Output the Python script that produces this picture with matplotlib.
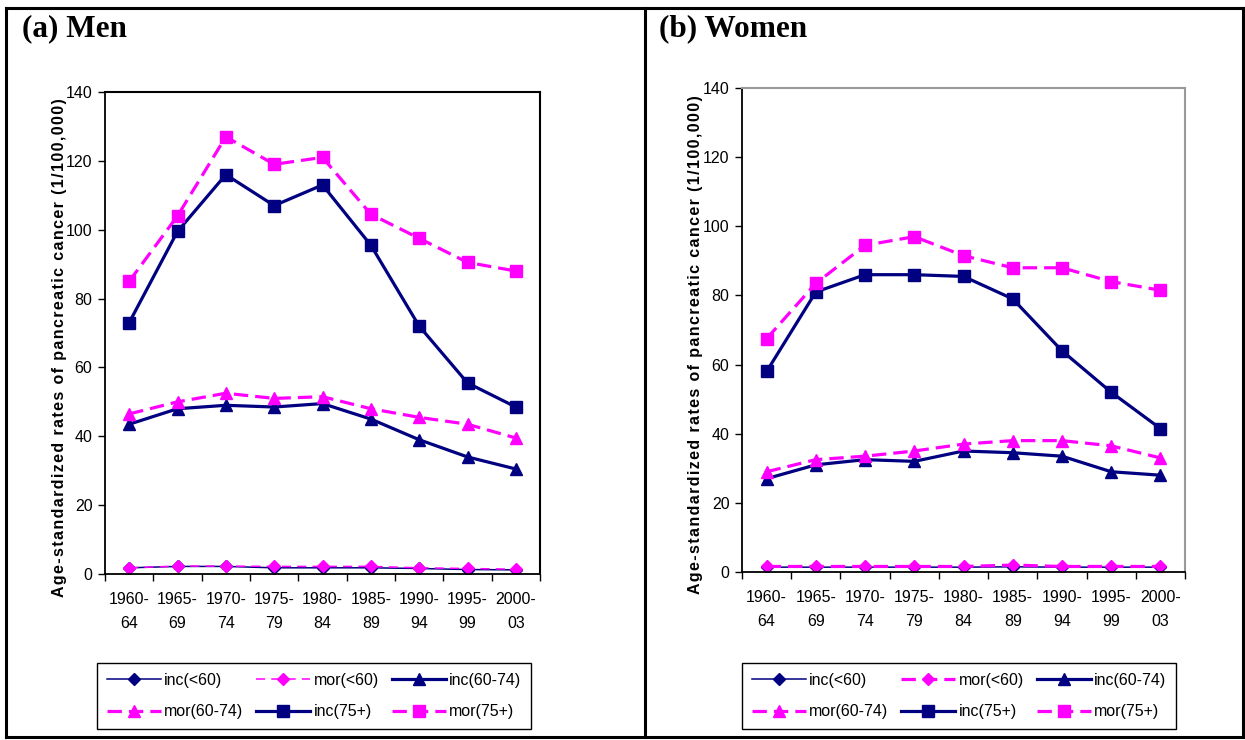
import matplotlib
matplotlib.use("Agg")
import matplotlib.pyplot as plt
from matplotlib.lines import Line2D

# periods on the x axis
periods = ["1960-\n64", "1965-\n69", "1970-\n74", "1975-\n79", "1980-\n84",
           "1985-\n89", "1990-\n94", "1995-\n99", "2000-\n03"]

# (a) Men
men_inc_lt60 = [1.8, 2.2, 2.2, 1.8, 1.8, 1.8, 1.6, 1.3, 1.2]
men_mor_lt60 = [1.8, 2.3, 2.3, 2.2, 2.2, 2.2, 1.8, 1.6, 1.4]
men_inc_6074 = [43.5, 48, 49, 48.5, 49.5, 45, 39, 34, 30.5]
men_mor_6074 = [46.5, 50, 52.5, 51, 51.5, 48, 45.5, 43.5, 39.5]
men_inc_75 = [73, 99.5, 116, 107, 113, 95.5, 72, 55.5, 48.5]
men_mor_75 = [85, 104, 127, 119, 121, 104.5, 97.5, 90.5, 88]

# (b) Women
wom_inc_lt60 = [1.4, 1.4, 1.4, 1.4, 1.4, 1.5, 1.4, 1.4, 1.4]
wom_mor_lt60 = [1.6, 1.6, 1.6, 1.6, 1.6, 2.0, 1.6, 1.6, 1.6]
wom_inc_6074 = [27, 31, 32.5, 32, 35, 34.5, 33.5, 29, 28]
wom_mor_6074 = [29, 32.5, 33.5, 35, 37, 38, 38, 36.5, 33]
wom_inc_75 = [58, 81, 86, 86, 85.5, 79, 64, 52, 41.5]
wom_mor_75 = [67.5, 83.5, 94.5, 97, 91.5, 88, 88, 84, 81.5]

labels = ["inc(<60)", "mor(<60)", "inc(60-74)", "mor(60-74)", "inc(75+)", "mor(75+)"]
ylab = "Age-standardized rates of pancreatic cancer (1/100,000)"

NAVY = "#000080"
MAG = "#FF00FF"
FONT = ["Liberation Sans", "DejaVu Sans"]

fig = plt.figure(figsize=(12.45, 7.4), dpi=100)


def draw_panel(rect, series, thin_mor, spine_col, legend_center):
    ax = fig.add_axes(rect)
    x = list(range(len(periods)))
    inc_lt60, mor_lt60, inc_6074, mor_6074, inc_75, mor_75 = series

    h = []
    h += ax.plot(x, inc_lt60, color=NAVY, lw=1.1, marker="D", ms=6, mfc=NAVY, mec=NAVY)
    if thin_mor:
        h += ax.plot(x, mor_lt60, color=MAG, lw=1.1, dashes=(6, 4), marker="D", ms=6, mfc=MAG, mec=MAG)
    else:
        h += ax.plot(x, mor_lt60, color=MAG, lw=2.3, dashes=(4.5, 2.2), marker="D", ms=6, mfc=MAG, mec=MAG)
    h += ax.plot(x, inc_6074, color=NAVY, lw=2.3, marker="^", ms=9, mfc=NAVY, mec=NAVY)
    h += ax.plot(x, mor_6074, color=MAG, lw=2.3, dashes=(4.5, 2.2), marker="^", ms=9, mfc=MAG, mec=MAG)
    h += ax.plot(x, inc_75, color=NAVY, lw=2.3, marker="s", ms=8.5, mfc=NAVY, mec=NAVY)
    h += ax.plot(x, mor_75, color=MAG, lw=2.3, dashes=(4.5, 2.2), marker="s", ms=8.5, mfc=MAG, mec=MAG)

    ax.set_xlim(-0.5, 8.5)
    ax.set_ylim(0, 140)
    ax.set_yticks(range(0, 141, 20))
    ax.set_xticks([i - 0.5 for i in range(10)])
    ax.set_xticklabels([])
    ax.set_xticks(x, minor=True)
    ax.set_xticklabels(periods, minor=True, fontsize=11.5, family=FONT, linespacing=1.75)
    ax.tick_params(axis="x", which="minor", length=0, pad=13)
    ax.tick_params(axis="x", which="major", direction="out", length=5, width=1)
    ax.tick_params(axis="y", direction="out", length=5, width=1, labelsize=11.5, pad=4)
    for t in ax.get_yticklabels():
        t.set_family(FONT)

    for s in ["left", "bottom"]:
        ax.spines[s].set_color("black")
        ax.spines[s].set_linewidth(1.3)
    for s in ["top", "right"]:
        ax.spines[s].set_color(spine_col)
        ax.spines[s].set_linewidth(1.5)

    # letter-spaced axis title
    ax.set_ylabel("\u200a".join(ylab), fontsize=11.5, fontweight="bold", family=FONT)
    ax.yaxis.set_label_coords(-0.087, 0.47)

    order = [0, 3, 1, 4, 2, 5]
    leg = fig.legend([h[i] for i in order], [labels[i] for i in order], ncol=3,
                     loc="center", bbox_to_anchor=legend_center,
                     prop={"family": FONT, "size": 11.5},
                     handlelength=3.4, handletextpad=0.2, columnspacing=0.8,
                     labelspacing=1.05, borderpad=0.6, fancybox=False,
                     framealpha=1, edgecolor="black")
    leg.get_frame().set_linewidth(1.0)
    return ax


W, H = 1245.0, 740.0
draw_panel([105 / W, 1 - 574 / H, 435 / W, 482 / H],
           [men_inc_lt60, men_mor_lt60, men_inc_6074, men_mor_6074, men_inc_75, men_mor_75],
           True, "black", (314 / W, 1 - 696 / H))
draw_panel([742 / W, 1 - 572 / H, 443 / W, 484 / H],
           [wom_inc_lt60, wom_mor_lt60, wom_inc_6074, wom_mor_6074, wom_inc_75, wom_mor_75],
           False, "#999999", (959 / W, 1 - 696 / H))

# panel titles
fig.text(22 / W, 1 - 29 / H, "(a) Men", family="Liberation Serif", fontweight="bold",
         fontsize=22.5, va="center", ha="left")
fig.text(659 / W, 1 - 29 / H, "(b) Women", family="Liberation Serif", fontweight="bold",
         fontsize=22.5, va="center", ha="left")

# outer table frame and divider
frame_kw = dict(color="black", lw=2.2, transform=fig.transFigure)
fig.add_artist(Line2D([6 / W, 1243 / W], [1 - 8 / H, 1 - 8 / H], **frame_kw))
fig.add_artist(Line2D([6 / W, 1243 / W], [1 - 737 / H, 1 - 737 / H], **frame_kw))
fig.add_artist(Line2D([6 / W, 6 / W], [1 - 8 / H, 1 - 737 / H], **frame_kw))
fig.add_artist(Line2D([1243 / W, 1243 / W], [1 - 8 / H, 1 - 737 / H], **frame_kw))
fig.add_artist(Line2D([645 / W, 645 / W], [1 - 8 / H, 1 - 737 / H], **frame_kw))

fig.savefig("out.png", dpi=100)
